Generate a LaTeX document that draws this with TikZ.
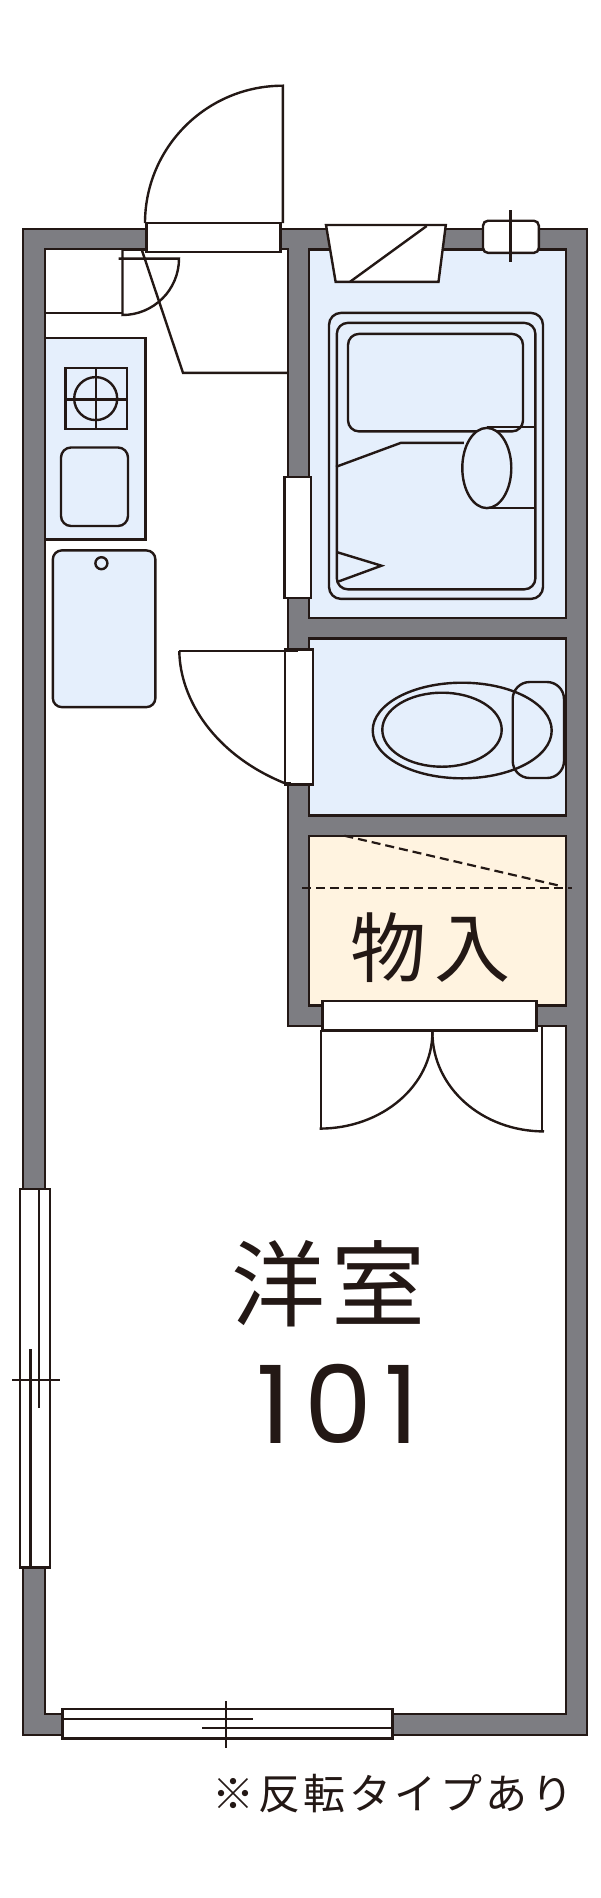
\documentclass[tikz,border=0pt]{standalone}
\usepackage{fontspec}
\newfontfamily\jp{Noto Sans CJK JP}
\newfontfamily\num{Poppins}
\definecolor{ink}{HTML}{231815}
\definecolor{wallgray}{HTML}{7D7D82}
\definecolor{bluefill}{HTML}{E5EFFC}
\definecolor{creamfill}{HTML}{FFF3E0}
\tikzset{
  ln/.style={draw=ink,line width=2.4pt,line join=miter},
  thickln/.style={draw=ink,line width=3.6pt},
  wall/.style={draw=ink,line width=2pt,fill=wallgray,even odd rule},
  bluebox/.style={ln,fill=bluefill},
  creambox/.style={ln,fill=creamfill},
  whitebox/.style={ln,fill=white},
  dashln/.style={draw=ink,line width=2.2pt,dash pattern=on 9pt off 5pt},
  label/.style={inner sep=0pt,text=ink}
}
\begin{document}
\begin{tikzpicture}[x=1pt,y=-1pt]
\useasboundingbox (0,0) rectangle (600,1898);
\fill[white] (0,0) rectangle (600,1898);
% walls
\path[wall] (23,228.6) rectangle (586.6,1734.9)
  (45,249.3) -- (288,249.3) -- (288,1025.7) -- (566,1025.7) -- (566,1714.4) -- (45,1714.4) -- cycle
  (309,249.3) rectangle (566,617.9)
  (309,638.6) rectangle (566,815.4)
  (309,835.7) rectangle (566,1005.4);
% room fills
\path[bluebox] (309,249.3) rectangle (566,617.9);
\path[bluebox] (309,638.6) rectangle (566,815.4);
\path[creambox] (309,835.7) rectangle (566,1005.4);
% entrance
\draw[ln] (141.6,249.3) -- (183,372.9) -- (288,372.9);
\draw[ln] (282.8,223.2) -- (282.8,85.7) .. controls (206.7,85.7) and (145,147.3) .. (145,223.2);
\path[whitebox] (146.6,223.2) rectangle (280.5,252.1);
% shoe cupboard
\draw[ln] (45,312.9) -- (122.5,312.9);
\draw[ln] (122.5,249.3) -- (145,249.3);
\draw[ln] (122.5,249.3) -- (122.5,315) .. controls (153.7,315) and (179,289.7) .. (179,258.6) -- (118.6,258.6);
% kitchen
\path[bluebox] (45,337.9) rectangle (145.4,539.6);
\draw[ln] (65.4,368.2) rectangle (126.7,428.9);
\draw[ln] (95.7,398.6) circle[radius=21.5];
\draw[ln] (95.7,368.2) -- (95.7,428.9) (65.4,399.3) -- (126.7,399.3);
\path[ln,rounded corners=10pt] (61,447.5) rectangle (128,526);
\path[bluebox,rounded corners=9pt] (52.8,550.4) rectangle (155.4,707.1);
\draw[ln] (101.4,563.2) circle[radius=6];
% bathroom
\path[ln,rounded corners=12pt] (329,312.9) rectangle (543,598.9);
\path[ln,rounded corners=11pt] (336.8,322.9) rectangle (535.4,589.3);
\path[ln,rounded corners=11pt] (348,333.9) rectangle (523,431.4);
\draw[ln] (336,466.8) -- (400.7,442.9) -- (463.8,442.9);
\draw[ln] (486.8,426.8) -- (534.6,426.8) (486.8,508.2) -- (534.6,508.2);
\path[bluebox] (486.8,468) ellipse[x radius=24.5,y radius=40.1];
\draw[ln] (336.8,552.1) -- (381.5,565.7) -- (336.8,582.1);
\path[whitebox] (326,225) -- (445.8,225) -- (438.5,281.8) -- (335.6,281.8) -- cycle;
\draw[ln] (350,281.8) -- (426.7,226);
\path[whitebox,rounded corners=5pt] (483,220.7) rectangle (538.8,252.9);
\draw[ln] (510.5,210) -- (510.5,261.8);
\path[whitebox] (284.3,477.1) rectangle (311,598.2);
% toilet
\draw[ln] (462.2,730.5) ellipse[x radius=89.5,y radius=47.8];
\draw[ln] (442,729.7) ellipse[x radius=59.7,y radius=37];
\path[ln,rounded corners=17pt] (512.7,682) rectangle (564,778);
\draw[ln] (179.3,651) -- (285,651);
\draw[ln] (179.3,651) .. controls (180,700) and (215,755) .. (285,783.3);
\path[whitebox] (285,649.5) rectangle (312.7,784.3);
\draw[thickln] (285,650.5) -- (298,650.5) (285,784) -- (291,784);
% closet
\draw[dashln] (344.4,835.7) -- (562.5,886.4);
\draw[dashln] (302.3,887.9) -- (572,887.9);
\draw[ln] (320.7,1030.4) -- (320.7,1128.6);
\draw[ln] (319.6,1128.6) .. controls (381.7,1128.6) and (432.4,1085.9) .. (432.4,1032.1);
\draw[ln] (542,1026.8) -- (542,1131.4);
\draw[ln] (544,1131.4) .. controls (482.4,1131.4) and (432.4,1087.7) .. (432.4,1032.1);
\path[whitebox] (322.6,1000.7) rectangle (536.5,1030.4);
% windows
\path[whitebox] (20,1189.1) rectangle (49.8,1567.5);
\draw[ln] (39,1189.1) -- (39,1407.6) (30.6,1349.4) -- (30.6,1567.5) (12.2,1380) -- (59.7,1380);
\path[whitebox] (62.4,1708.7) rectangle (392.6,1738.3);
\draw[ln] (62.4,1718.7) -- (252.6,1718.7) (202,1727.8) -- (392.6,1727.8) (225.8,1701) -- (225.8,1747.8);
% texts
\node[label,font=\jp\fontsize{76}{76}\selectfont] (closet) at (430.5,947.3) {物\kern8pt入};
\node[label,font=\jp\fontsize{94}{94}\selectfont] (room) at (328.5,1284) {洋\kern7pt室};
\node[label,font=\num\fontsize{108}{108}\selectfont] (num) at (337.5,1404) {1\kern14pt0\kern12pt1};
\node[label,font=\jp\fontsize{42}{42}\selectfont] (note) at (393,1794) {※\kern3.5pt反\kern3.5pt転\kern3.5ptタ\kern3.5ptイ\kern3.5ptプ\kern3.5ptあ\kern3.5ptり};
\end{tikzpicture}
\end{document}
